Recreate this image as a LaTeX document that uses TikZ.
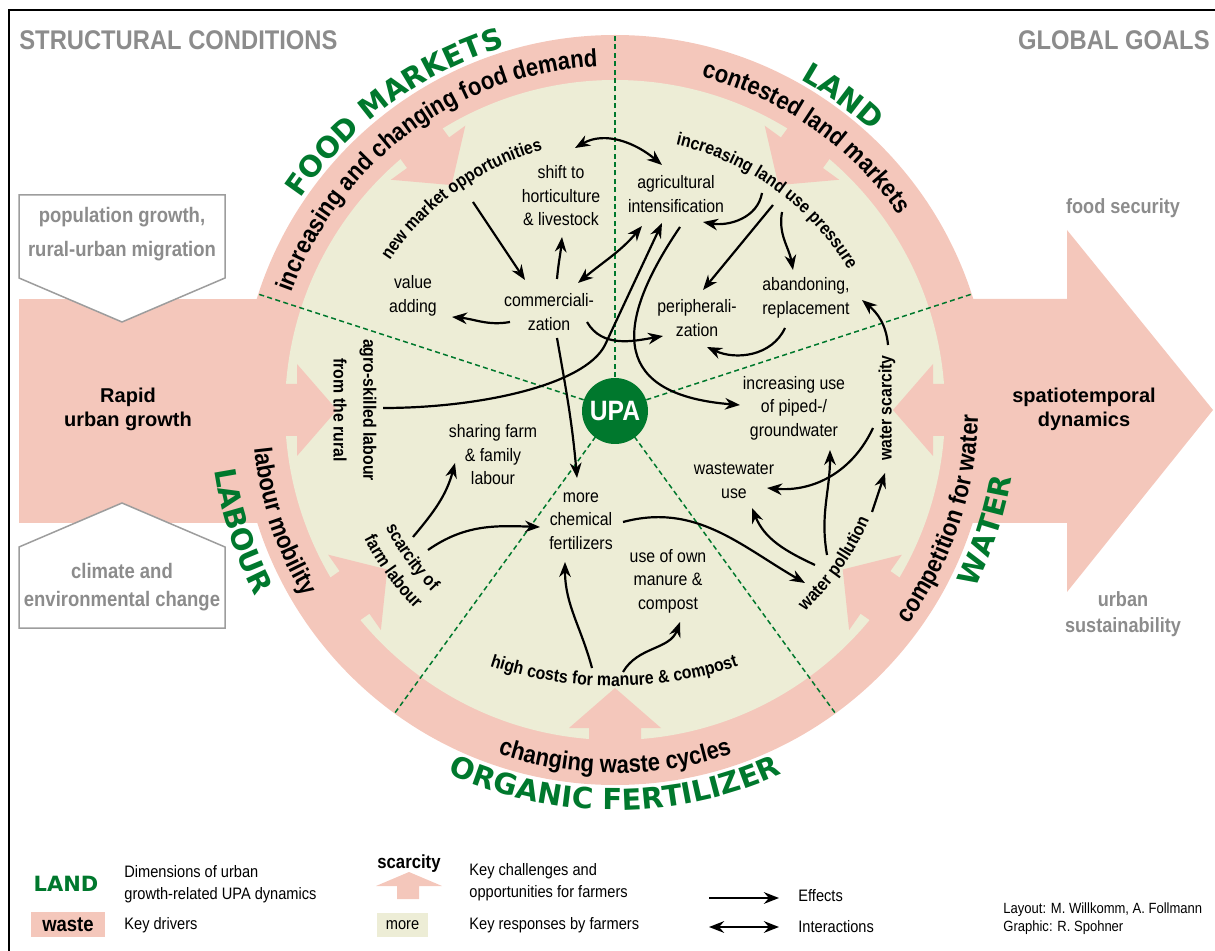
\documentclass[tikz,border=0pt]{standalone}
\usepackage{fontspec}
\setmainfont{Liberation Sans}
\newfontfamily\cond[FakeStretch=0.88]{Liberation Sans}
\newfontfamily\wide{DejaVu Sans}
\usetikzlibrary{arrows.meta,decorations.text}
\definecolor{pk}{HTML}{F4C7BB}
\definecolor{bg}{HTML}{EDEDD6}
\definecolor{grn}{HTML}{00782D}
\definecolor{gry}{HTML}{8C8C8C}
\newcommand\ringtxt{\cond\bfseries\fontsize{12.5}{14}\selectfont}
\newcommand\dimtxt{\color{grn}\wide\bfseries\fontsize{14.5}{16}\selectfont}
\newcommand\keytxt{\cond\bfseries\fontsize{9}{11}\selectfont}
\begin{document}
\begin{tikzpicture}[x=0.5pt,y=0.5pt,
    resp/.style={font=\cond\fontsize{9}{11.75}\selectfont,align=center,inner sep=0pt},
    key/.style={font=\keytxt,inner sep=0pt},
    goal/.style={font=\cond\bfseries\fontsize{10.3}{13}\selectfont,text=gry,align=center,inner sep=0pt},
    boxtxt/.style={font=\cond\bfseries\fontsize{10.5}{14}\selectfont,text=gry,align=center,inner sep=0pt},
    leg/.style={font=\cond\fontsize{8.3}{11}\selectfont,align=left,anchor=west,inner sep=0pt},
    eff/.style={-{Stealth[length=7.5pt,width=5.8pt]},line width=1.1pt},
    inter/.style={{Stealth[length=7.5pt,width=5.8pt]}-{Stealth[length=7.5pt,width=5.8pt]},line width=1.1pt},
    arc text/.style={decorate,decoration={text along path,text align=center,text={#1}}}]
\useasboundingbox (0,0) rectangle (1215,-951);
\draw[line width=0.75pt] (9,-951) -- (9,-10) -- (1215,-10);

\fill[pk] (19,-299) rectangle (615,-523);
\fill[pk] (615,-299) -- (1067,-299) -- (1067,-230) -- (1213,-410) -- (1067,-592) -- (1067,-523) -- (615,-523) -- cycle;
\filldraw[fill=white,draw=gry!85,line width=0.75pt] (19,-195) -- (225,-195) -- (225,-278) -- (122,-322) -- (19,-278) -- cycle;
\filldraw[fill=white,draw=gry!85,line width=0.75pt] (19,-628) -- (225,-628) -- (225,-547) -- (122,-503) -- (19,-547) -- cycle;

\begin{scope}[shift={(615,-410)}]
  \fill[pk] (0,0) circle[radius=375];
  \fill[bg] (0,0) circle[radius=330];
  \foreach \a in {0,54,126,180,215,270,325}
    \fill[pk,rotate=\a] (350,-26) -- (318,-26) -- (318,-46) -- (278,0) -- (318,46) -- (318,26) -- (350,26) -- cycle;
  \foreach \a in {18,90,162,234,306}
    \draw[grn,line width=0.75pt,dash pattern=on 2.5pt off 1.7pt] (\a:33) -- (\a:375);
  \path[arc text={|\ringtxt|increasing and changing food demand}] (171.5:344) arc[start angle=171.5,end angle=81.5,radius=344];
  \path[arc text={|\ringtxt|contested land markets}] (100:344) arc[start angle=100,end angle=10,radius=344];
  \path[arc text={|\ringtxt|labour mobility}] (163.5:363) arc[start angle=163.5,end angle=233.5,radius=363];
  \path[arc text={|\ringtxt|competition for water}] (-53.5:363) arc[start angle=-53.5,end angle=16.5,radius=363];
  \path[arc text={|\ringtxt|changing waste cycles}] (235:363) arc[start angle=235,end angle=305,radius=363];
  \path[arc text={|\dimtxt|FOOD MARKETS}] (171:379) arc[start angle=171,end angle=82,radius=379];
  \path[arc text={|\dimtxt|LAND}] (84:379) arc[start angle=84,end angle=24,radius=379];
  \path[arc text={|\dimtxt|LABOUR}] (168:405) arc[start angle=168,end angle=228,radius=405];
  \path[arc text={|\dimtxt|WATER}] (-48:402) arc[start angle=-48,end angle=12,radius=402];
  \path[arc text={|\dimtxt|ORGANIC FERTILIZER}] (225:400) arc[start angle=225,end angle=315,radius=400];
  \path[arc text={|\keytxt|new market opportunities}] (171:270) arc[start angle=171,end angle=81,radius=270];
  \path[arc text={|\keytxt|increasing land use pressure}] (99:272) arc[start angle=99,end angle=9,radius=272];
  \path[arc text={|\keytxt|scarcity of}] (186:258) arc[start angle=186,end angle=246,radius=258];
  \path[arc text={|\keytxt|farm labour}] (186:282) arc[start angle=186,end angle=246,radius=282];
  \path[arc text={|\keytxt|water pollution}] (-65:277) arc[start angle=-65,end angle=-5,radius=277];
  \path[arc text={|\keytxt|high costs for manure {\&} compost}] ([shift={(-1,120)}]230:396) arc[start angle=230,end angle=310,radius=396];
\end{scope}

\node[anchor=west,inner sep=0pt,text=gry,font=\cond\bfseries\fontsize{13.5}{15}\selectfont] (struct) at (19,-40) {STRUCTURAL CONDITIONS};
\node[anchor=east,inner sep=0pt,text=gry,font=\cond\bfseries\fontsize{13.5}{15}\selectfont] (goals) at (1210,-40) {GLOBAL GOALS};
\node[goal] (foodsec) at (1123,-208) {food security};
\node[goal] (urbsus) at (1123,-614) {urban\\sustainability};
\node[boxtxt] (popul) at (122,-234) {population growth,\\[3pt]rural-urban migration};
\node[boxtxt] (climate) at (122,-587) {climate and\\environmental change};
\node[font=\bfseries\fontsize{10}{12}\selectfont,align=center,inner sep=0pt] (rapid) at (128,-409) {Rapid\\urban growth};
\node[font=\bfseries\fontsize{10}{12}\selectfont,align=center,inner sep=0pt] (spatio) at (1084,-409) {spatiotemporal\\dynamics};

\node[resp] (shifth) at (561,-196) {shift to\\horticulture\\\& livestock};
\node[resp] (agri) at (676,-194) {agricultural\\intensification};
\node[resp] (value) at (413,-296) {value\\adding};
\node[resp] (comm) at (549,-312) {commerciali-\\zation};
\node[resp] (peri) at (697,-318) {peripherali-\\zation};
\node[resp] (aband) at (806,-298) {abandoning,\\replacement};
\node[resp] (piped) at (794,-408) {increasing use\\of piped-/\\groundwater};
\node[resp] (sharing) at (493,-455) {sharing farm\\\& family\\labour};
\node[resp] (wastew) at (734,-481) {wastewater\\use};
\node[resp] (chem) at (581,-521) {more\\chemical\\fertilizers};
\node[resp] (ownman) at (668,-581) {use of own\\manure \&\\compost};
\node[key,rotate=-90] (agro) at (368,-410) {agro-skilled labour};
\node[key,rotate=-90] (rural) at (340,-410) {from the rural};
\node[key,rotate=90] (wscar) at (887,-408) {water scarcity};
\node[circle,fill=grn,text=white,minimum size=33pt,inner sep=0pt,font=\cond\bfseries\fontsize{14}{14}\selectfont] (upa) at (615,-411) {UPA};

\coordinate (shiftT) at (575,-148);  \coordinate (agriT) at (662,-165);
\coordinate (nmo) at (473,-202);     \coordinate (commT) at (525,-280);
\coordinate (commU) at (557,-279);   \coordinate (shiftB) at (562,-237);
\coordinate (commR) at (578,-283);   \coordinate (agriBL) at (642,-226);
\coordinate (commL) at (510,-322);   \coordinate (valueR) at (452,-317);
\coordinate (commBR) at (587,-322);  \coordinate (periL) at (663,-336);
\coordinate (agroR) at (383,-408);   \coordinate (agriB) at (662,-223);
\coordinate (agriBR) at (680,-227);  \coordinate (pipedL) at (740,-405);
\coordinate (lup1) at (762,-193);    \coordinate (agriR) at (703,-222);
\coordinate (lup2) at (773,-205);    \coordinate (periT) at (703,-290);
\coordinate (lup3) at (782,-212);    \coordinate (abandT) at (793,-270);
\coordinate (abandB) at (785,-328);  \coordinate (periB) at (707,-347);
\coordinate (wscT) at (888,-345);    \coordinate (abandR) at (862,-300);
\coordinate (commB) at (557,-338);   \coordinate (chemT) at (577,-478);
\coordinate (scar1) at (413,-537);   \coordinate (shareB) at (455,-463);
\coordinate (scar2) at (428,-550);   \coordinate (chemL) at (540,-527);
\coordinate (hc1) at (592,-668);     \coordinate (chemB) at (565,-562);
\coordinate (hc2) at (623,-672);     \coordinate (ownB) at (680,-622);
\coordinate (chemR) at (623,-522);   \coordinate (wpolL) at (805,-583);
\coordinate (wpol1) at (815,-565);   \coordinate (wasteB) at (752,-508);
\coordinate (wpol2) at (827,-555);   \coordinate (pipedB) at (830,-450);
\coordinate (wscL) at (873,-428);    \coordinate (wasteR) at (767,-488);
\coordinate (wpol3) at (872,-512);   \coordinate (wscB) at (885,-473);

\draw[inter] (shiftT) to[out=30,in=140] (agriT);
\draw[eff] (nmo) -- (commT);
\draw[eff] (commU) to[out=85,in=-95] (shiftB);
\draw[inter] (commR) to[out=40,in=-130] (agriBL);
\draw[eff] (commL) to[out=190,in=-5] (valueR);
\draw[eff] (commBR) to[out=-60,in=190] (periL);
\draw[eff] (agroR) .. controls (480,-408) and (585,-385) .. (605,-345) -- (agriB);
\draw[eff] (agriBR) .. controls (610,-330) and (615,-395) .. (pipedL);
\draw[eff] (lup1) to[out=-100,in=-10] (agriR);
\draw[eff] (lup2) -- (periT);
\draw[eff] (lup3) to[out=-100,in=100] (abandT);
\draw[eff] (abandB) to[out=-115,in=-25] (periB);
\draw[eff] (wscT) to[out=95,in=-40] (abandR);
\draw[eff] (commB) to[out=-80,in=95] (chemT);
\draw[eff] (scar1) to[out=50,in=-105] (shareB);
\draw[eff] (scar2) to[out=35,in=178] (chemL);
\draw[eff] (hc1) to[out=105,in=-90] (chemB);
\draw[eff] (hc2) to[out=60,in=-110] (ownB);
\draw[eff] (chemR) to[out=15,in=150] (wpolL);
\draw[eff] (wpol1) to[out=155,in=-68] (wasteB);
\draw[eff] (wpol2) to[out=100,in=-90] (pipedB);
\draw[eff] (wscL) to[out=-115,in=-5] (wasteR);
\draw[eff] (wpol3) -- (wscB);

\node[font=\wide\bfseries\fontsize{10.5}{12}\selectfont,text=grn,inner sep=0pt] (lland) at (66,-884) {LAND};
\node[fill=pk,minimum width=37pt,minimum height=12.5pt,inner sep=0pt,font=\cond\bfseries\fontsize{10.5}{12}\selectfont] (lwaste) at (68,-924.5) {waste};
\node[leg] (ldim) at (124,-884.5) {Dimensions of urban\\growth-related UPA dynamics};
\node[leg] (ldrv) at (124,-925) {Key drivers};
\fill[pk] (409,-872) -- (442,-886) -- (419,-886) -- (419,-899) -- (397,-899) -- (397,-886) -- (376,-886) -- cycle;
\node[font=\cond\bfseries\fontsize{9.5}{11}\selectfont,inner sep=0pt] (lscar) at (409,-864) {scarcity};
\node[fill=bg,minimum width=25.5pt,minimum height=12pt,inner sep=0pt,font=\cond\fontsize{8.3}{10}\selectfont] (lmore) at (402.5,-925) {more};
\node[leg] (lchal) at (469,-882.5) {Key challenges and\\opportunities for farmers};
\node[leg] (lresp) at (469,-925) {Key responses by farmers};
\coordinate (le1) at (709,-898); \coordinate (le2) at (779,-898);
\coordinate (li1) at (709,-927); \coordinate (li2) at (779,-927);
\draw[eff,line width=1.4pt] (le1) -- (le2);
\draw[inter,line width=1.4pt] (li1) -- (li2);
\node[leg] (leff) at (798,-896) {Effects};
\node[leg] (lint) at (798,-927) {Interactions};
\node[leg,font=\cond\fontsize{7.4}{9}\selectfont] (credit) at (1003,-919) {Layout: M. Willkomm, A. Follmann\\Graphic: R. Spohner};
\end{tikzpicture}
\end{document}
